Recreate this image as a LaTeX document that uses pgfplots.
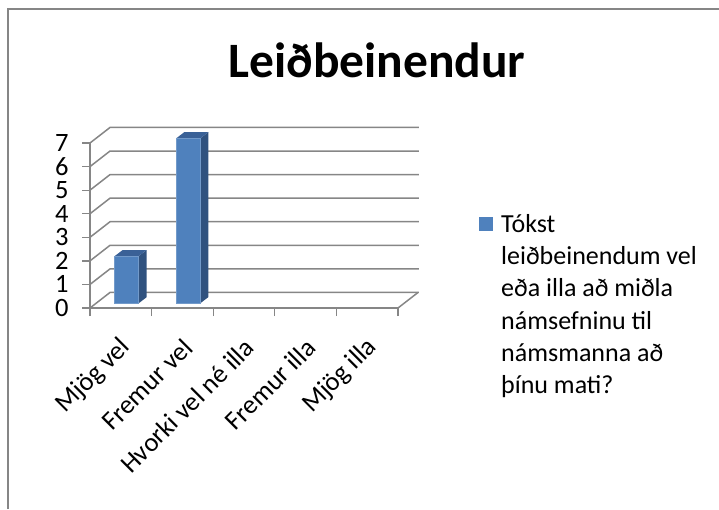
\documentclass[border=0pt]{standalone}
\usepackage{fontspec}
\setmainfont{Carlito}
\usepackage{pgfplots}
\pgfplotsset{compat=1.18}
\definecolor{gridc}{HTML}{868686}
\definecolor{barfront}{HTML}{4F81BD}
\definecolor{barside}{HTML}{30527F}
\definecolor{bartop}{HTML}{3A6197}
\begin{document}
\begin{tikzpicture}
\useasboundingbox (0pt,0pt) rectangle (719pt,-509pt);
\draw[gridc, line width=1.5pt] (8pt,-509pt) -- (8pt,-9pt) -- (719pt,-9pt);
\node[font=\fontsize{49.5}{58}\selectfont\bfseries] at (377pt,-60pt) {Leiðbeinendur};
\begin{axis}[
  at={(90pt,-308pt)}, anchor=south west,
  scale only axis, width=308pt, height=165pt,
  xmin=0, xmax=5, ymin=0, ymax=7, clip=false,
  axis x line*=bottom, axis y line*=left,
  axis line style={-, gridc, line width=1.5pt},
  tick style={gridc, line width=1.3pt},
  tick align=outside, major tick length=8pt,
  ytick={0,...,7},
  /pgf/number format/assume math mode=true,
  ticklabel style={font=\fontsize{26.5}{32}\selectfont},
  yticklabel style={xshift=-10pt},
  xtick={0,...,5}, xticklabels={},
  extra x ticks={0.5,1.5,2.5,3.5,4.5},
  extra x tick labels={Mjög vel, Fremur vel, Hvorki vel né illa, Fremur illa, Mjög illa},
  extra x tick style={major tick length=0pt,
    xticklabel style={xshift=8pt, yshift=-33pt, rotate=45, anchor=east}},
  legend style={at={(1.263,0.582)}, anchor=north west, draw=none, fill=none,
    inner sep=0pt, font=\fontsize{26}{32.3}\selectfont},
  legend cell align=left,
]
% back wall gridlines and left wall diagonals
\foreach \k in {0,...,7}{
  \edef\tmp{\noexpand\addplot[gridc, line width=1.5pt, forget plot] coordinates {(0,\k) (0.325,\k+0.66) (5.34,\k+0.66)};}
  \tmp
}
% floor right edge
\addplot[gridc, line width=1.5pt, forget plot] coordinates {(5,0) (5.325,0.66)};
% bar 1: Mjög vel = 2
\addplot[fill=barside, draw=none, forget plot] coordinates {(0.79,0.2) (0.92,0.46) (0.92,2.46) (0.79,2.2)} -- cycle;
\addplot[fill=bartop, draw=none, forget plot] coordinates {(0.40,2.2) (0.79,2.2) (0.92,2.46) (0.53,2.46)} -- cycle;
\addplot[fill=barfront, draw=barfront!80!white, line width=0.6pt, forget plot] coordinates {(0.40,0.2) (0.79,0.2) (0.79,2.2) (0.40,2.2)} -- cycle;
% bar 2: Fremur vel = 7
\addplot[fill=barside, draw=none, forget plot] coordinates {(1.79,0.2) (1.92,0.46) (1.92,7.46) (1.79,7.2)} -- cycle;
\addplot[fill=bartop, draw=none, forget plot] coordinates {(1.40,7.2) (1.79,7.2) (1.92,7.46) (1.53,7.46)} -- cycle;
\addplot[fill=barfront, draw=barfront!80!white, line width=0.6pt, forget plot] coordinates {(1.40,0.2) (1.79,0.2) (1.79,7.2) (1.40,7.2)} -- cycle;
\addlegendimage{draw=none, legend image code/.code={\fill[barfront, draw=none] (-23pt,-7pt) rectangle (-9pt,7pt); \path[draw=none, fill=none] (-9pt,0pt) -- (-3pt,0pt);}}
\addlegendentry{\parbox[t]{215pt}{\raggedright Tókst\\ leiðbeinendum vel\\ eða illa að miðla\\ námsefninu til\\ námsmanna að\\ þínu mati?}}
\end{axis}
\end{tikzpicture}
\end{document}
